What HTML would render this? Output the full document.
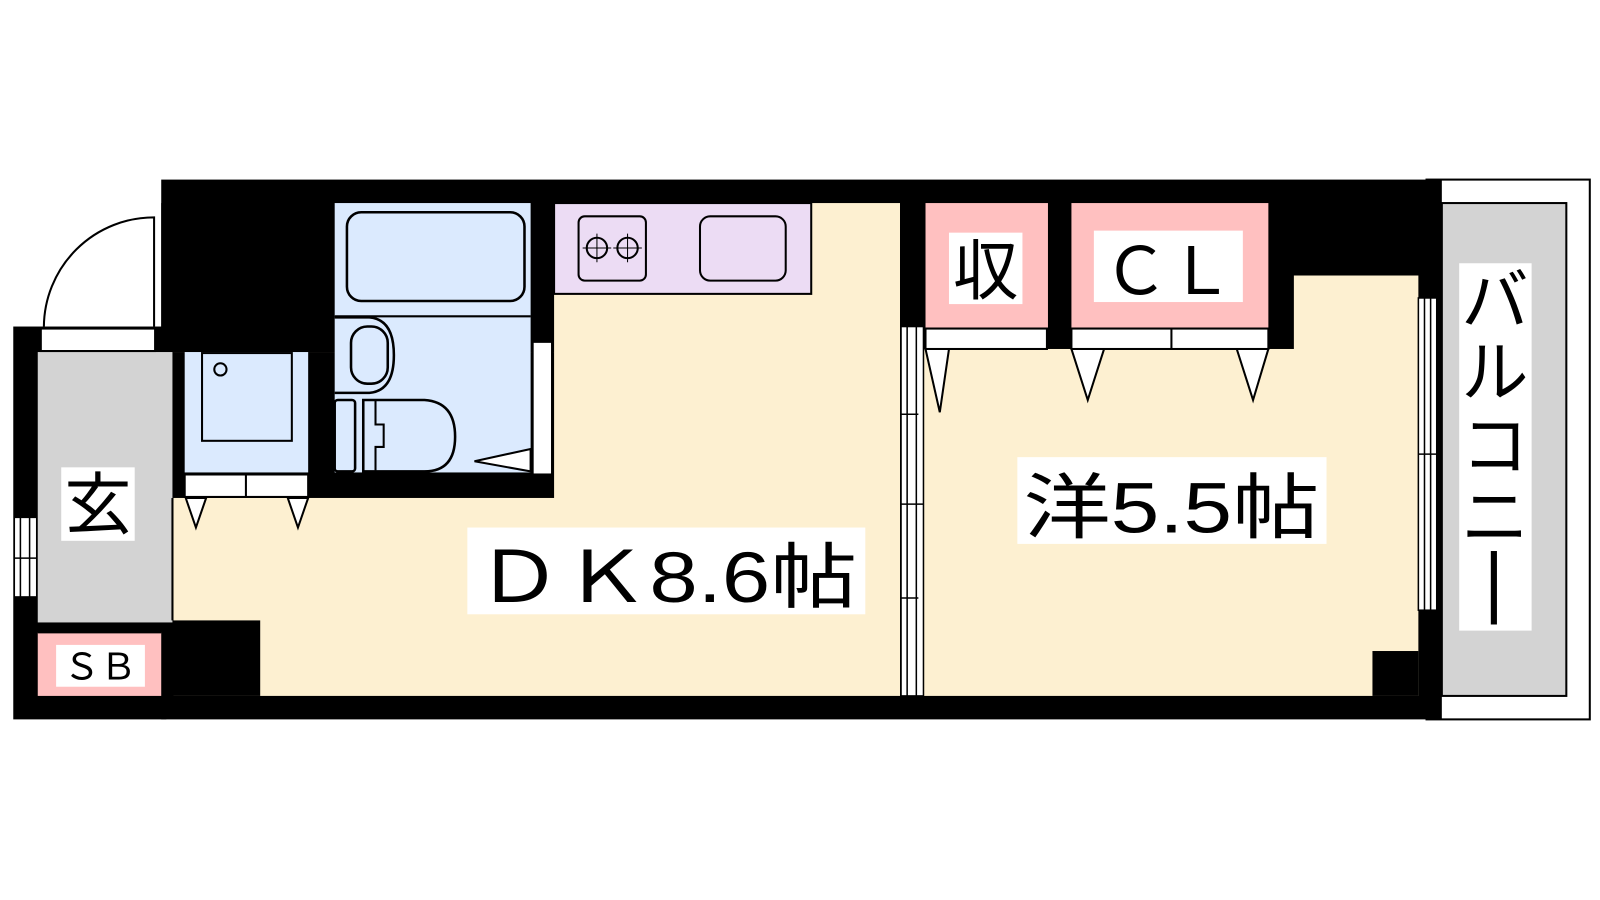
<!DOCTYPE html>
<html><head><meta charset="utf-8"><style>
html,body{margin:0;padding:0;background:#fff;}
svg{display:block;}
text{font-family:"Liberation Sans","Noto Sans CJK JP",sans-serif;fill:#000;}
</style></head><body>
<svg width="1600" height="900" viewBox="0 0 1568 882" preserveAspectRatio="none" xmlns="http://www.w3.org/2000/svg">
<rect width="1568" height="882" fill="#fff"/>
<!-- balcony -->
<rect x="1398" y="176" width="160" height="529" fill="#fff" stroke="#000" stroke-width="2"/>
<rect x="1413" y="199" width="122" height="483" fill="#d3d3d3" stroke="#000" stroke-width="2"/>
<!-- main black body -->
<rect x="158" y="176" width="1255" height="529" fill="#000"/>
<rect x="13" y="320" width="150" height="385" fill="#000"/>
<!-- floors -->
<rect x="170" y="288" width="712" height="394" fill="#fdf0d1"/>
<rect x="543" y="199" width="339" height="100" fill="#fdf0d1"/>
<rect x="905" y="342" width="485" height="340" fill="#fdf0d1"/>
<rect x="1268" y="270" width="122" height="80" fill="#fdf0d1"/>
<rect x="1345" y="638" width="45" height="44" fill="#000"/>
<!-- black chunks inside DK -->
<rect x="158" y="199" width="385" height="146" fill="#000"/>
<rect x="158" y="345" width="385" height="143" fill="#000"/>
<rect x="158" y="608" width="97" height="74" fill="#000"/>
<!-- genkan -->
<rect x="37" y="345" width="132" height="265" fill="#d3d3d3"/>
<line x1="169" y1="488" x2="169" y2="608" stroke="#000" stroke-width="2"/>
<rect x="37" y="620" width="121" height="62" fill="#ffc0c0"/>
<line x1="37" y1="620" x2="158" y2="620" stroke="#000" stroke-width="1.5"/>
<!-- entry door -->
<rect x="40" y="322" width="112" height="22" fill="#fff" stroke="#000" stroke-width="2"/>
<path d="M43 320 A108 108 0 0 1 151 213 L151 320" fill="#fff" stroke="#000" stroke-width="2"/>
<!-- left window -->
<rect x="14" y="507" width="22" height="78" fill="#fff" stroke="#000" stroke-width="1.5"/>
<line x1="20" y1="507" x2="20" y2="585" stroke="#000" stroke-width="1.5"/>
<line x1="29" y1="507" x2="29" y2="585" stroke="#000" stroke-width="1.5"/>
<line x1="14" y1="547" x2="36" y2="547" stroke="#000" stroke-width="1.5"/>
<!-- washer -->
<rect x="181" y="345" width="121" height="118" fill="#dbeafe"/>
<rect x="198" y="346" width="88" height="86" fill="none" stroke="#000" stroke-width="2"/>
<circle cx="216" cy="362" r="6" fill="none" stroke="#000" stroke-width="2"/>
<rect x="181" y="465" width="121" height="22" fill="#fff" stroke="#000" stroke-width="2"/>
<line x1="241" y1="465" x2="241" y2="487" stroke="#000" stroke-width="2"/>
<path d="M182 488 L192 517 L202 488 Z M282 488 L292 517 L302 488 Z" fill="#fff" stroke="#000" stroke-width="2"/>
<!-- bath/toilet -->
<rect x="328" y="199" width="192" height="264" fill="#dbeafe"/>
<rect x="340" y="208" width="174" height="87" rx="14" fill="none" stroke="#000" stroke-width="2.5"/>
<line x1="328" y1="310" x2="520" y2="310" stroke="#000" stroke-width="2"/>
<path d="M328 311 L362 311 Q386 313 386 348 Q386 383 362 385 L328 385" fill="none" stroke="#000" stroke-width="2.5"/>
<rect x="344" y="320" width="36" height="56" rx="16" fill="none" stroke="#000" stroke-width="2.5"/>
<rect x="328" y="392" width="20" height="70" rx="3" fill="none" stroke="#000" stroke-width="2.5"/>
<path d="M356 392 L416 392 Q446 394 446 428 Q446 462 416 462 L356 462 Z" fill="none" stroke="#000" stroke-width="2.5"/>
<path d="M368 393 L368 416 L376 416 L376 438 L368 438 L368 461" fill="none" stroke="#000" stroke-width="2"/>
<rect x="522" y="335" width="19" height="130" fill="#fff" stroke="#000" stroke-width="2"/>
<path d="M520 440 L465 452 L520 462 Z" fill="#fff" stroke="#000" stroke-width="2"/>
<!-- kitchen -->
<rect x="543" y="199" width="252" height="89" fill="#ecdcf4" stroke="#000" stroke-width="2"/>
<rect x="567" y="212" width="66" height="63" rx="6" fill="none" stroke="#000" stroke-width="2"/>
<circle cx="585" cy="243" r="10" fill="none" stroke="#000" stroke-width="2"/>
<circle cx="615" cy="243" r="10" fill="none" stroke="#000" stroke-width="2"/>
<path d="M585 229v28M571 243h28M615 229v28M601 243h28" stroke="#000" stroke-width="1" fill="none"/>
<rect x="686" y="212" width="84" height="63" rx="10" fill="none" stroke="#000" stroke-width="2"/>
<!-- partition with sliding doors -->
<rect x="883" y="320" width="22" height="362" fill="#fff" stroke="#000" stroke-width="1.5"/>
<line x1="889" y1="320" x2="889" y2="682" stroke="#000" stroke-width="1.5"/>
<line x1="898" y1="320" x2="898" y2="682" stroke="#000" stroke-width="1.5"/>
<line x1="883" y1="494" x2="905" y2="494" stroke="#000" stroke-width="1.5"/>
<line x1="883" y1="406" x2="900" y2="406" stroke="#000" stroke-width="1.5"/>
<line x1="883" y1="586" x2="900" y2="586" stroke="#000" stroke-width="1.5"/>
<!-- closets -->
<rect x="907" y="199" width="120" height="122" fill="#ffc0c0"/>
<rect x="1050" y="199" width="193" height="122" fill="#ffc0c0"/>
<rect x="907" y="322" width="119" height="20" fill="#fff" stroke="#000" stroke-width="2"/>
<rect x="1050" y="322" width="193" height="20" fill="#fff" stroke="#000" stroke-width="2"/>
<line x1="1148" y1="322" x2="1148" y2="342" stroke="#000" stroke-width="2"/>
<path d="M907 342 L921 404 L930 342 Z M1050 342 L1066 392 L1082 342 Z M1212 342 L1228 392 L1243 342 Z" fill="#fff" stroke="#000" stroke-width="2"/>
<!-- right window -->
<rect x="1390" y="292" width="18" height="306" fill="#fff" stroke="#000" stroke-width="1.5"/>
<line x1="1396" y1="292" x2="1396" y2="598" stroke="#000" stroke-width="1.5"/>
<line x1="1402" y1="292" x2="1402" y2="598" stroke="#000" stroke-width="1.5"/>
<line x1="1390" y1="445" x2="1408" y2="445" stroke="#000" stroke-width="1.5"/>
<!-- labels -->
<rect x="60" y="458" width="72" height="72" fill="#fff"/>
<text x="96" y="518" font-size="66" text-anchor="middle">玄</text>
<rect x="55" y="632" width="87" height="41" fill="#fff"/>
<text x="98" y="666" font-size="36" text-anchor="middle">ＳＢ</text>
<rect x="458" y="517" width="390" height="85" fill="#fff"/>
<text x="653" y="590" font-size="70" text-anchor="middle" textLength="374" lengthAdjust="spacingAndGlyphs">ＤＫ8.6帖</text>
<rect x="997" y="448" width="303" height="85" fill="#fff"/>
<text x="1148" y="522" font-size="70" text-anchor="middle" textLength="290" lengthAdjust="spacingAndGlyphs">洋5.5帖</text>
<rect x="930" y="228" width="72" height="70" fill="#fff"/>
<text x="966" y="288" font-size="64" text-anchor="middle">収</text>
<rect x="1072" y="226" width="146" height="70" fill="#fff"/>
<text x="1145" y="288" font-size="64" text-anchor="middle">ＣＬ</text>
<rect x="1430" y="258" width="71" height="360" fill="#fff"/>
<text x="1465" y="318" font-size="66" text-anchor="middle">バ</text>
<text x="1465" y="388" font-size="66" text-anchor="middle">ル</text>
<text x="1465" y="460" font-size="66" text-anchor="middle">コ</text>
<text x="1465" y="530" font-size="66" text-anchor="middle">ニ</text>
<rect x="1461" y="540" width="6" height="72" fill="#000"/>
</svg>
</body></html>
